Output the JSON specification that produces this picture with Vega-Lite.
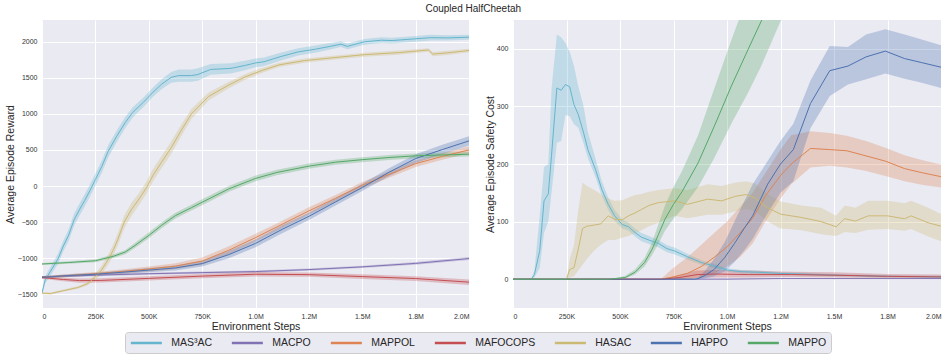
{
"$schema": "https://vega.github.io/schema/vega-lite/v6.json",
"background": "white",
"padding": {"left": 5, "top": 4, "right": 2, "bottom": 2},
"title": {"text": "Coupled HalfCheetah", "fontSize": 10, "fontWeight": "normal", "font": "Liberation Sans", "color": "#262626", "baseline": "bottom", "offset": -4, "anchor": "middle"},
"datasets": {
"reward": [
{"m":"MAS³AC","s":0,"v":-1480,"lo":-1510,"hi":-1450},
{"m":"MAS³AC","s":15000,"v":-1300,"lo":-1350,"hi":-1250},
{"m":"MAS³AC","s":40000,"v":-1180,"lo":-1240,"hi":-1120},
{"m":"MAS³AC","s":75000,"v":-1010,"lo":-1080,"hi":-940},
{"m":"MAS³AC","s":100000,"v":-830,"lo":-905,"hi":-755},
{"m":"MAS³AC","s":125000,"v":-680,"lo":-760,"hi":-600},
{"m":"MAS³AC","s":150000,"v":-470,"lo":-555,"hi":-385},
{"m":"MAS³AC","s":175000,"v":-330,"lo":-415,"hi":-245},
{"m":"MAS³AC","s":200000,"v":-200,"lo":-285,"hi":-115},
{"m":"MAS³AC","s":225000,"v":-60,"lo":-145,"hi":25},
{"m":"MAS³AC","s":250000,"v":90,"lo":5,"hi":175},
{"m":"MAS³AC","s":280000,"v":270,"lo":185,"hi":355},
{"m":"MAS³AC","s":310000,"v":480,"lo":395,"hi":565},
{"m":"MAS³AC","s":350000,"v":690,"lo":610,"hi":770},
{"m":"MAS³AC","s":390000,"v":880,"lo":805,"hi":955},
{"m":"MAS³AC","s":425000,"v":1020,"lo":950,"hi":1090},
{"m":"MAS³AC","s":475000,"v":1160,"lo":1095,"hi":1225},
{"m":"MAS³AC","s":520000,"v":1300,"lo":1235,"hi":1365},
{"m":"MAS³AC","s":560000,"v":1410,"lo":1340,"hi":1480},
{"m":"MAS³AC","s":605000,"v":1505,"lo":1430,"hi":1580},
{"m":"MAS³AC","s":640000,"v":1530,"lo":1445,"hi":1615},
{"m":"MAS³AC","s":700000,"v":1530,"lo":1445,"hi":1615},
{"m":"MAS³AC","s":730000,"v":1545,"lo":1460,"hi":1630},
{"m":"MAS³AC","s":790000,"v":1615,"lo":1540,"hi":1690},
{"m":"MAS³AC","s":885000,"v":1630,"lo":1560,"hi":1700},
{"m":"MAS³AC","s":950000,"v":1670,"lo":1605,"hi":1735},
{"m":"MAS³AC","s":1000000,"v":1705,"lo":1645,"hi":1765},
{"m":"MAS³AC","s":1040000,"v":1722,"lo":1662,"hi":1782},
{"m":"MAS³AC","s":1120000,"v":1795,"lo":1740,"hi":1850},
{"m":"MAS³AC","s":1200000,"v":1858,"lo":1808,"hi":1908},
{"m":"MAS³AC","s":1280000,"v":1895,"lo":1845,"hi":1945},
{"m":"MAS³AC","s":1350000,"v":1935,"lo":1890,"hi":1980},
{"m":"MAS³AC","s":1400000,"v":1965,"lo":1925,"hi":2005},
{"m":"MAS³AC","s":1430000,"v":1935,"lo":1895,"hi":1975},
{"m":"MAS³AC","s":1510000,"v":1998,"lo":1958,"hi":2038},
{"m":"MAS³AC","s":1590000,"v":2020,"lo":1980,"hi":2060},
{"m":"MAS³AC","s":1640000,"v":2015,"lo":1975,"hi":2055},
{"m":"MAS³AC","s":1750000,"v":2040,"lo":2000,"hi":2080},
{"m":"MAS³AC","s":1820000,"v":2055,"lo":2015,"hi":2095},
{"m":"MAS³AC","s":1900000,"v":2052,"lo":2017,"hi":2087},
{"m":"MAS³AC","s":2000000,"v":2062,"lo":2027,"hi":2097},
{"m":"MACPO","s":0,"v":-1260,"lo":-1275,"hi":-1245},
{"m":"MACPO","s":250000,"v":-1235,"lo":-1250,"hi":-1220},
{"m":"MACPO","s":500000,"v":-1215,"lo":-1230,"hi":-1200},
{"m":"MACPO","s":750000,"v":-1200,"lo":-1215,"hi":-1185},
{"m":"MACPO","s":1000000,"v":-1185,"lo":-1200,"hi":-1170},
{"m":"MACPO","s":1250000,"v":-1158,"lo":-1173,"hi":-1143},
{"m":"MACPO","s":1500000,"v":-1120,"lo":-1137,"hi":-1103},
{"m":"MACPO","s":1750000,"v":-1072,"lo":-1090,"hi":-1054},
{"m":"MACPO","s":2000000,"v":-1005,"lo":-1025,"hi":-985},
{"m":"MAPPOL","s":0,"v":-1265,"lo":-1280,"hi":-1250},
{"m":"MAPPOL","s":125000,"v":-1240,"lo":-1260,"hi":-1220},
{"m":"MAPPOL","s":250000,"v":-1215,"lo":-1240,"hi":-1190},
{"m":"MAPPOL","s":375000,"v":-1185,"lo":-1215,"hi":-1155},
{"m":"MAPPOL","s":500000,"v":-1150,"lo":-1185,"hi":-1115},
{"m":"MAPPOL","s":625000,"v":-1110,"lo":-1150,"hi":-1070},
{"m":"MAPPOL","s":750000,"v":-1040,"lo":-1090,"hi":-990},
{"m":"MAPPOL","s":875000,"v":-890,"lo":-945,"hi":-835},
{"m":"MAPPOL","s":1000000,"v":-715,"lo":-770,"hi":-660},
{"m":"MAPPOL","s":1125000,"v":-530,"lo":-580,"hi":-480},
{"m":"MAPPOL","s":1250000,"v":-345,"lo":-395,"hi":-295},
{"m":"MAPPOL","s":1375000,"v":-170,"lo":-215,"hi":-125},
{"m":"MAPPOL","s":1500000,"v":10,"lo":-35,"hi":55},
{"m":"MAPPOL","s":1625000,"v":160,"lo":115,"hi":205},
{"m":"MAPPOL","s":1750000,"v":310,"lo":265,"hi":355},
{"m":"MAPPOL","s":1875000,"v":410,"lo":365,"hi":455},
{"m":"MAPPOL","s":2000000,"v":500,"lo":450,"hi":550},
{"m":"MAFOCOPS","s":0,"v":-1268,"lo":-1285,"hi":-1250},
{"m":"MAFOCOPS","s":100000,"v":-1295,"lo":-1320,"hi":-1270},
{"m":"MAFOCOPS","s":175000,"v":-1310,"lo":-1340,"hi":-1280},
{"m":"MAFOCOPS","s":275000,"v":-1308,"lo":-1338,"hi":-1278},
{"m":"MAFOCOPS","s":500000,"v":-1280,"lo":-1310,"hi":-1250},
{"m":"MAFOCOPS","s":750000,"v":-1248,"lo":-1278,"hi":-1218},
{"m":"MAFOCOPS","s":1000000,"v":-1222,"lo":-1252,"hi":-1192},
{"m":"MAFOCOPS","s":1250000,"v":-1228,"lo":-1258,"hi":-1198},
{"m":"MAFOCOPS","s":1500000,"v":-1255,"lo":-1288,"hi":-1222},
{"m":"MAFOCOPS","s":1750000,"v":-1282,"lo":-1315,"hi":-1249},
{"m":"MAFOCOPS","s":2000000,"v":-1332,"lo":-1370,"hi":-1294},
{"m":"HASAC","s":0,"v":-1485,"lo":-1500,"hi":-1470},
{"m":"HASAC","s":40000,"v":-1490,"lo":-1505,"hi":-1475},
{"m":"HASAC","s":100000,"v":-1450,"lo":-1465,"hi":-1435},
{"m":"HASAC","s":170000,"v":-1405,"lo":-1425,"hi":-1385},
{"m":"HASAC","s":215000,"v":-1350,"lo":-1375,"hi":-1325},
{"m":"HASAC","s":250000,"v":-1260,"lo":-1300,"hi":-1220},
{"m":"HASAC","s":280000,"v":-1160,"lo":-1220,"hi":-1100},
{"m":"HASAC","s":310000,"v":-1020,"lo":-1090,"hi":-950},
{"m":"HASAC","s":335000,"v":-880,"lo":-960,"hi":-800},
{"m":"HASAC","s":355000,"v":-740,"lo":-825,"hi":-655},
{"m":"HASAC","s":385000,"v":-500,"lo":-590,"hi":-410},
{"m":"HASAC","s":420000,"v":-320,"lo":-410,"hi":-230},
{"m":"HASAC","s":450000,"v":-200,"lo":-285,"hi":-115},
{"m":"HASAC","s":490000,"v":-20,"lo":-105,"hi":65},
{"m":"HASAC","s":520000,"v":150,"lo":65,"hi":235},
{"m":"HASAC","s":560000,"v":330,"lo":245,"hi":415},
{"m":"HASAC","s":605000,"v":530,"lo":445,"hi":615},
{"m":"HASAC","s":650000,"v":760,"lo":680,"hi":840},
{"m":"HASAC","s":700000,"v":1000,"lo":930,"hi":1070},
{"m":"HASAC","s":780000,"v":1240,"lo":1185,"hi":1295},
{"m":"HASAC","s":875000,"v":1400,"lo":1355,"hi":1445},
{"m":"HASAC","s":950000,"v":1510,"lo":1470,"hi":1550},
{"m":"HASAC","s":1030000,"v":1600,"lo":1565,"hi":1635},
{"m":"HASAC","s":1110000,"v":1678,"lo":1648,"hi":1708},
{"m":"HASAC","s":1230000,"v":1738,"lo":1708,"hi":1768},
{"m":"HASAC","s":1340000,"v":1770,"lo":1742,"hi":1798},
{"m":"HASAC","s":1510000,"v":1820,"lo":1792,"hi":1848},
{"m":"HASAC","s":1670000,"v":1848,"lo":1820,"hi":1876},
{"m":"HASAC","s":1810000,"v":1885,"lo":1860,"hi":1910},
{"m":"HASAC","s":1830000,"v":1828,"lo":1798,"hi":1858},
{"m":"HASAC","s":1900000,"v":1845,"lo":1815,"hi":1875},
{"m":"HASAC","s":2000000,"v":1878,"lo":1853,"hi":1903},
{"m":"HAPPO","s":0,"v":-1265,"lo":-1280,"hi":-1250},
{"m":"HAPPO","s":125000,"v":-1240,"lo":-1258,"hi":-1222},
{"m":"HAPPO","s":250000,"v":-1222,"lo":-1242,"hi":-1202},
{"m":"HAPPO","s":375000,"v":-1195,"lo":-1220,"hi":-1170},
{"m":"HAPPO","s":500000,"v":-1165,"lo":-1195,"hi":-1135},
{"m":"HAPPO","s":625000,"v":-1135,"lo":-1170,"hi":-1100},
{"m":"HAPPO","s":750000,"v":-1075,"lo":-1115,"hi":-1035},
{"m":"HAPPO","s":875000,"v":-950,"lo":-1000,"hi":-900},
{"m":"HAPPO","s":1000000,"v":-795,"lo":-850,"hi":-740},
{"m":"HAPPO","s":1125000,"v":-600,"lo":-655,"hi":-545},
{"m":"HAPPO","s":1250000,"v":-420,"lo":-470,"hi":-370},
{"m":"HAPPO","s":1375000,"v":-220,"lo":-270,"hi":-170},
{"m":"HAPPO","s":1500000,"v":-20,"lo":-70,"hi":30},
{"m":"HAPPO","s":1625000,"v":190,"lo":135,"hi":245},
{"m":"HAPPO","s":1750000,"v":380,"lo":320,"hi":440},
{"m":"HAPPO","s":1875000,"v":505,"lo":440,"hi":570},
{"m":"HAPPO","s":2000000,"v":625,"lo":560,"hi":690},
{"m":"MAPPO","s":0,"v":-1080,"lo":-1095,"hi":-1065},
{"m":"MAPPO","s":125000,"v":-1060,"lo":-1078,"hi":-1042},
{"m":"MAPPO","s":250000,"v":-1035,"lo":-1055,"hi":-1015},
{"m":"MAPPO","s":333000,"v":-975,"lo":-1000,"hi":-950},
{"m":"MAPPO","s":390000,"v":-915,"lo":-945,"hi":-885},
{"m":"MAPPO","s":435000,"v":-825,"lo":-860,"hi":-790},
{"m":"MAPPO","s":500000,"v":-685,"lo":-725,"hi":-645},
{"m":"MAPPO","s":560000,"v":-545,"lo":-585,"hi":-505},
{"m":"MAPPO","s":625000,"v":-410,"lo":-450,"hi":-370},
{"m":"MAPPO","s":700000,"v":-300,"lo":-340,"hi":-260},
{"m":"MAPPO","s":750000,"v":-225,"lo":-265,"hi":-185},
{"m":"MAPPO","s":875000,"v":-40,"lo":-80,"hi":0},
{"m":"MAPPO","s":1000000,"v":105,"lo":65,"hi":145},
{"m":"MAPPO","s":1100000,"v":188,"lo":150,"hi":226},
{"m":"MAPPO","s":1250000,"v":275,"lo":238,"hi":312},
{"m":"MAPPO","s":1375000,"v":330,"lo":295,"hi":365},
{"m":"MAPPO","s":1500000,"v":365,"lo":330,"hi":400},
{"m":"MAPPO","s":1625000,"v":395,"lo":362,"hi":428},
{"m":"MAPPO","s":1750000,"v":418,"lo":386,"hi":450},
{"m":"MAPPO","s":1875000,"v":430,"lo":398,"hi":462},
{"m":"MAPPO","s":2000000,"v":440,"lo":408,"hi":472}
],
"cost": [
{"m":"MAS³AC","s":0,"v":0,"lo":0,"hi":0},
{"m":"MAS³AC","s":85000,"v":0,"lo":0,"hi":0},
{"m":"MAS³AC","s":100000,"v":8,"lo":3,"hi":15},
{"m":"MAS³AC","s":125000,"v":50,"lo":20,"hi":110},
{"m":"MAS³AC","s":145000,"v":136,"lo":80,"hi":195},
{"m":"MAS³AC","s":165000,"v":148,"lo":100,"hi":200},
{"m":"MAS³AC","s":180000,"v":215,"lo":150,"hi":330},
{"m":"MAS³AC","s":205000,"v":332,"lo":237,"hi":425},
{"m":"MAS³AC","s":225000,"v":328,"lo":240,"hi":420},
{"m":"MAS³AC","s":245000,"v":338,"lo":285,"hi":410},
{"m":"MAS³AC","s":265000,"v":334,"lo":283,"hi":395},
{"m":"MAS³AC","s":285000,"v":303,"lo":269,"hi":370},
{"m":"MAS³AC","s":305000,"v":286,"lo":263,"hi":335},
{"m":"MAS³AC","s":330000,"v":254,"lo":235,"hi":300},
{"m":"MAS³AC","s":350000,"v":225,"lo":210,"hi":255},
{"m":"MAS³AC","s":385000,"v":191,"lo":178,"hi":210},
{"m":"MAS³AC","s":415000,"v":156,"lo":145,"hi":170},
{"m":"MAS³AC","s":445000,"v":130,"lo":120,"hi":142},
{"m":"MAS³AC","s":475000,"v":110,"lo":101,"hi":120},
{"m":"MAS³AC","s":510000,"v":95,"lo":88,"hi":104},
{"m":"MAS³AC","s":540000,"v":91,"lo":84,"hi":98},
{"m":"MAS³AC","s":570000,"v":81,"lo":74,"hi":88},
{"m":"MAS³AC","s":600000,"v":73,"lo":66,"hi":80},
{"m":"MAS³AC","s":635000,"v":68,"lo":61,"hi":75},
{"m":"MAS³AC","s":680000,"v":62,"lo":55,"hi":68},
{"m":"MAS³AC","s":720000,"v":53,"lo":47,"hi":59},
{"m":"MAS³AC","s":755000,"v":49,"lo":43,"hi":55},
{"m":"MAS³AC","s":815000,"v":39,"lo":34,"hi":44},
{"m":"MAS³AC","s":880000,"v":29,"lo":25,"hi":33},
{"m":"MAS³AC","s":940000,"v":23,"lo":19,"hi":27},
{"m":"MAS³AC","s":1000000,"v":16,"lo":13,"hi":19},
{"m":"MAS³AC","s":1070000,"v":13,"lo":10,"hi":16},
{"m":"MAS³AC","s":1150000,"v":12,"lo":9,"hi":15},
{"m":"MAS³AC","s":1250000,"v":10,"lo":8,"hi":12},
{"m":"MAS³AC","s":1350000,"v":9,"lo":7,"hi":11},
{"m":"MAS³AC","s":1500000,"v":7,"lo":5,"hi":9},
{"m":"MAS³AC","s":1750000,"v":5,"lo":3,"hi":7},
{"m":"MAS³AC","s":2000000,"v":4,"lo":2,"hi":6},
{"m":"MACPO","s":0,"v":0,"lo":0,"hi":0},
{"m":"MACPO","s":1000000,"v":0,"lo":0,"hi":1},
{"m":"MACPO","s":1250000,"v":1,"lo":0,"hi":2},
{"m":"MACPO","s":1500000,"v":1,"lo":0,"hi":2},
{"m":"MACPO","s":2000000,"v":1,"lo":0,"hi":2},
{"m":"MAPPOL","s":0,"v":0,"lo":0,"hi":0},
{"m":"MAPPOL","s":690000,"v":0,"lo":0,"hi":0},
{"m":"MAPPOL","s":750000,"v":4,"lo":0,"hi":20},
{"m":"MAPPOL","s":815000,"v":10,"lo":0,"hi":38},
{"m":"MAPPOL","s":880000,"v":22,"lo":3,"hi":60},
{"m":"MAPPOL","s":940000,"v":38,"lo":10,"hi":80},
{"m":"MAPPOL","s":1000000,"v":56,"lo":22,"hi":100},
{"m":"MAPPOL","s":1060000,"v":80,"lo":38,"hi":125},
{"m":"MAPPOL","s":1120000,"v":106,"lo":62,"hi":150},
{"m":"MAPPOL","s":1180000,"v":145,"lo":100,"hi":185},
{"m":"MAPPOL","s":1250000,"v":180,"lo":140,"hi":225},
{"m":"MAPPOL","s":1300000,"v":200,"lo":165,"hi":250},
{"m":"MAPPOL","s":1390000,"v":227,"lo":194,"hi":257},
{"m":"MAPPOL","s":1480000,"v":225,"lo":197,"hi":254},
{"m":"MAPPOL","s":1560000,"v":223,"lo":194,"hi":249},
{"m":"MAPPOL","s":1650000,"v":214,"lo":188,"hi":240},
{"m":"MAPPOL","s":1740000,"v":205,"lo":179,"hi":228},
{"m":"MAPPOL","s":1830000,"v":192,"lo":170,"hi":215},
{"m":"MAPPOL","s":1910000,"v":185,"lo":164,"hi":207},
{"m":"MAPPOL","s":2000000,"v":178,"lo":159,"hi":199},
{"m":"MAFOCOPS","s":0,"v":0,"lo":0,"hi":0},
{"m":"MAFOCOPS","s":700000,"v":0,"lo":0,"hi":0},
{"m":"MAFOCOPS","s":780000,"v":3,"lo":0,"hi":8},
{"m":"MAFOCOPS","s":860000,"v":8,"lo":2,"hi":15},
{"m":"MAFOCOPS","s":950000,"v":9,"lo":3,"hi":16},
{"m":"MAFOCOPS","s":1100000,"v":8,"lo":3,"hi":15},
{"m":"MAFOCOPS","s":1300000,"v":8,"lo":4,"hi":13},
{"m":"MAFOCOPS","s":1500000,"v":7,"lo":3,"hi":12},
{"m":"MAFOCOPS","s":1750000,"v":5,"lo":2,"hi":9},
{"m":"MAFOCOPS","s":2000000,"v":4,"lo":1,"hi":8},
{"m":"HASAC","s":0,"v":0,"lo":0,"hi":0},
{"m":"HASAC","s":250000,"v":0,"lo":0,"hi":0},
{"m":"HASAC","s":265000,"v":17,"lo":3,"hi":35},
{"m":"HASAC","s":285000,"v":20,"lo":5,"hi":60},
{"m":"HASAC","s":305000,"v":52,"lo":15,"hi":120},
{"m":"HASAC","s":325000,"v":88,"lo":25,"hi":168},
{"m":"HASAC","s":345000,"v":92,"lo":35,"hi":162},
{"m":"HASAC","s":380000,"v":94,"lo":50,"hi":155},
{"m":"HASAC","s":410000,"v":96,"lo":60,"hi":148},
{"m":"HASAC","s":445000,"v":110,"lo":68,"hi":140},
{"m":"HASAC","s":475000,"v":104,"lo":68,"hi":136},
{"m":"HASAC","s":510000,"v":103,"lo":72,"hi":137},
{"m":"HASAC","s":540000,"v":110,"lo":75,"hi":142},
{"m":"HASAC","s":570000,"v":115,"lo":80,"hi":146},
{"m":"HASAC","s":600000,"v":121,"lo":85,"hi":148},
{"m":"HASAC","s":635000,"v":128,"lo":92,"hi":152},
{"m":"HASAC","s":680000,"v":133,"lo":98,"hi":155},
{"m":"HASAC","s":755000,"v":136,"lo":110,"hi":158},
{"m":"HASAC","s":815000,"v":130,"lo":106,"hi":155},
{"m":"HASAC","s":910000,"v":139,"lo":112,"hi":165},
{"m":"HASAC","s":975000,"v":136,"lo":112,"hi":162},
{"m":"HASAC","s":1040000,"v":144,"lo":118,"hi":168},
{"m":"HASAC","s":1090000,"v":147,"lo":122,"hi":170},
{"m":"HASAC","s":1130000,"v":141,"lo":118,"hi":166},
{"m":"HASAC","s":1190000,"v":124,"lo":100,"hi":148},
{"m":"HASAC","s":1250000,"v":113,"lo":88,"hi":135},
{"m":"HASAC","s":1350000,"v":107,"lo":85,"hi":128},
{"m":"HASAC","s":1440000,"v":100,"lo":78,"hi":124},
{"m":"HASAC","s":1510000,"v":91,"lo":75,"hi":110},
{"m":"HASAC","s":1550000,"v":105,"lo":82,"hi":128},
{"m":"HASAC","s":1600000,"v":101,"lo":80,"hi":124},
{"m":"HASAC","s":1660000,"v":110,"lo":86,"hi":136},
{"m":"HASAC","s":1750000,"v":110,"lo":87,"hi":136},
{"m":"HASAC","s":1830000,"v":105,"lo":84,"hi":132},
{"m":"HASAC","s":1860000,"v":110,"lo":87,"hi":136},
{"m":"HASAC","s":1940000,"v":98,"lo":74,"hi":124},
{"m":"HASAC","s":2000000,"v":92,"lo":66,"hi":113},
{"m":"HAPPO","s":0,"v":0,"lo":0,"hi":0},
{"m":"HAPPO","s":850000,"v":0,"lo":0,"hi":0},
{"m":"HAPPO","s":865000,"v":1,"lo":0,"hi":3},
{"m":"HAPPO","s":895000,"v":6,"lo":1,"hi":14},
{"m":"HAPPO","s":940000,"v":17,"lo":5,"hi":35},
{"m":"HAPPO","s":990000,"v":38,"lo":14,"hi":65},
{"m":"HAPPO","s":1035000,"v":62,"lo":30,"hi":100},
{"m":"HAPPO","s":1080000,"v":88,"lo":50,"hi":135},
{"m":"HAPPO","s":1120000,"v":110,"lo":70,"hi":165},
{"m":"HAPPO","s":1190000,"v":165,"lo":115,"hi":205},
{"m":"HAPPO","s":1250000,"v":200,"lo":150,"hi":240},
{"m":"HAPPO","s":1310000,"v":225,"lo":170,"hi":270},
{"m":"HAPPO","s":1390000,"v":305,"lo":262,"hi":345},
{"m":"HAPPO","s":1480000,"v":362,"lo":318,"hi":405},
{"m":"HAPPO","s":1565000,"v":370,"lo":338,"hi":403},
{"m":"HAPPO","s":1650000,"v":386,"lo":347,"hi":425},
{"m":"HAPPO","s":1740000,"v":396,"lo":357,"hi":434},
{"m":"HAPPO","s":1830000,"v":383,"lo":348,"hi":425},
{"m":"HAPPO","s":1910000,"v":376,"lo":341,"hi":416},
{"m":"HAPPO","s":2000000,"v":368,"lo":332,"hi":406},
{"m":"MAPPO","s":0,"v":0,"lo":0,"hi":0},
{"m":"MAPPO","s":450000,"v":0,"lo":0,"hi":0},
{"m":"MAPPO","s":500000,"v":2,"lo":1,"hi":4},
{"m":"MAPPO","s":525000,"v":3,"lo":1,"hi":6},
{"m":"MAPPO","s":570000,"v":12,"lo":8,"hi":17},
{"m":"MAPPO","s":615000,"v":29,"lo":22,"hi":37},
{"m":"MAPPO","s":650000,"v":52,"lo":42,"hi":64},
{"m":"MAPPO","s":680000,"v":78,"lo":62,"hi":96},
{"m":"MAPPO","s":710000,"v":104,"lo":84,"hi":128},
{"m":"MAPPO","s":750000,"v":130,"lo":105,"hi":160},
{"m":"MAPPO","s":790000,"v":152,"lo":122,"hi":188},
{"m":"MAPPO","s":865000,"v":202,"lo":160,"hi":250},
{"m":"MAPPO","s":940000,"v":265,"lo":210,"hi":330},
{"m":"MAPPO","s":1020000,"v":335,"lo":270,"hi":415},
{"m":"MAPPO","s":1100000,"v":400,"lo":325,"hi":495},
{"m":"MAPPO","s":1160000,"v":448,"lo":370,"hi":545},
{"m":"MAPPO","s":1250000,"v":520,"lo":448,"hi":620},
{"m":"MAPPO","s":1350000,"v":590,"lo":510,"hi":690}
]
},
"hconcat": [
{
"width": 427, "height": 288,
"data": {"name": "reward"},
"layer": [
{"mark": {"type": "area", "opacity": 0.3, "clip": true},
 "encoding": {
  "x": {"field": "s", "type": "quantitative", "scale": {"domain": [0, 2000000], "nice": false}, "axis": {"values": [0,250000,500000,750000,1000000,1250000,1500000,1750000,2000000], "labelExpr": "datum.value == 0 ? '0' : datum.value == 250000 ? '250K' : datum.value == 500000 ? '500K' : datum.value == 750000 ? '750K' : datum.value == 1000000 ? '1.0M' : datum.value == 1250000 ? '1.2M' : datum.value == 1500000 ? '1.5M' : datum.value == 1750000 ? '1.8M' : '2.0M'", "title": "Environment Steps", "labelPadding": 4, "titlePadding": 2, "minExtent": 11, "maxExtent": 11}},
  "y": {"field": "lo", "type": "quantitative", "scale": {"domain": [-1690, 2300], "nice": false, "zero": false}, "axis": {"values": [-1500,-1000,-500,0,500,1000,1500,2000], "format": "d", "title": "Average Episode Reward", "labelPadding": 5, "titlePadding": 4.5, "minExtent": 22, "maxExtent": 22}},
  "y2": {"field": "hi"},
  "color": {"field": "m", "type": "nominal", "scale": {"domain": ["MAS³AC","MACPO","MAPPOL","MAFOCOPS","HASAC","HAPPO","MAPPO"], "range": ["#64B5CD","#8172B3","#DD8452","#C44E52","#CCB974","#4C72B0","#55A868"]}, "legend": {"title": null}}
 }},
{"mark": {"type": "line", "strokeWidth": 1, "clip": true},
 "encoding": {
  "x": {"field": "s", "type": "quantitative"},
  "y": {"field": "v", "type": "quantitative"},
  "color": {"field": "m", "type": "nominal", "legend": {"title": null}}
 }}
]
},
{
"width": 428, "height": 288,
"data": {"name": "cost"},
"layer": [
{"mark": {"type": "area", "opacity": 0.3, "clip": true},
 "encoding": {
  "x": {"field": "s", "type": "quantitative", "scale": {"domain": [0, 2000000], "nice": false}, "axis": {"values": [0,250000,500000,750000,1000000,1250000,1500000,1750000,2000000], "labelExpr": "datum.value == 0 ? '0' : datum.value == 250000 ? '250K' : datum.value == 500000 ? '500K' : datum.value == 750000 ? '750K' : datum.value == 1000000 ? '1.0M' : datum.value == 1250000 ? '1.2M' : datum.value == 1500000 ? '1.5M' : datum.value == 1750000 ? '1.8M' : '2.0M'", "title": "Environment Steps", "labelPadding": 4, "titlePadding": 2, "minExtent": 11, "maxExtent": 11}},
  "y": {"field": "lo", "type": "quantitative", "scale": {"domain": [-50, 450], "nice": false, "zero": false}, "axis": {"values": [0,100,200,300,400], "format": "d", "title": "Average Episode Safety Cost", "labelPadding": 5, "titlePadding": 4, "minExtent": 13.5, "maxExtent": 13.5}},
  "y2": {"field": "hi"},
  "color": {"field": "m", "type": "nominal", "legend": {"title": null}}
 }},
{"mark": {"type": "line", "strokeWidth": 1, "clip": true},
 "encoding": {
  "x": {"field": "s", "type": "quantitative"},
  "y": {"field": "v", "type": "quantitative"},
  "color": {"field": "m", "type": "nominal", "legend": {"title": null}}
 }}
]
}
],
"spacing": 44,
"bounds": "flush",
"resolve": {"scale": {"color": "shared"}},
"config": {
 "view": {"fill": "#EAEAF2", "stroke": null},
 "axis": {"domain": false, "ticks": false, "grid": true, "gridColor": "#FFFFFF", "gridWidth": 1, "labelFont": "Liberation Sans", "labelFontSize": 7, "labelColor": "#333333", "titleFont": "Liberation Sans", "titleFontSize": 10.5, "titleFontWeight": "normal", "titleColor": "#262626"},
 "legend": {"orient": "none", "legendX": 83, "legendY": 312, "direction": "horizontal", "columns": 7, "symbolType": "M-1,0H5", "symbolSize": 107, "symbolStrokeWidth": 2.5, "symbolOpacity": 1, "symbolFillColor": "transparent", "labelFont": "Liberation Sans", "labelFontSize": 10.5, "labelColor": "#262626", "labelOffset": 28.7, "columnPadding": 14, "padding": 4.5, "fillColor": "#EAEAF2", "strokeColor": "#CCCCCC", "cornerRadius": 3}
}
}
